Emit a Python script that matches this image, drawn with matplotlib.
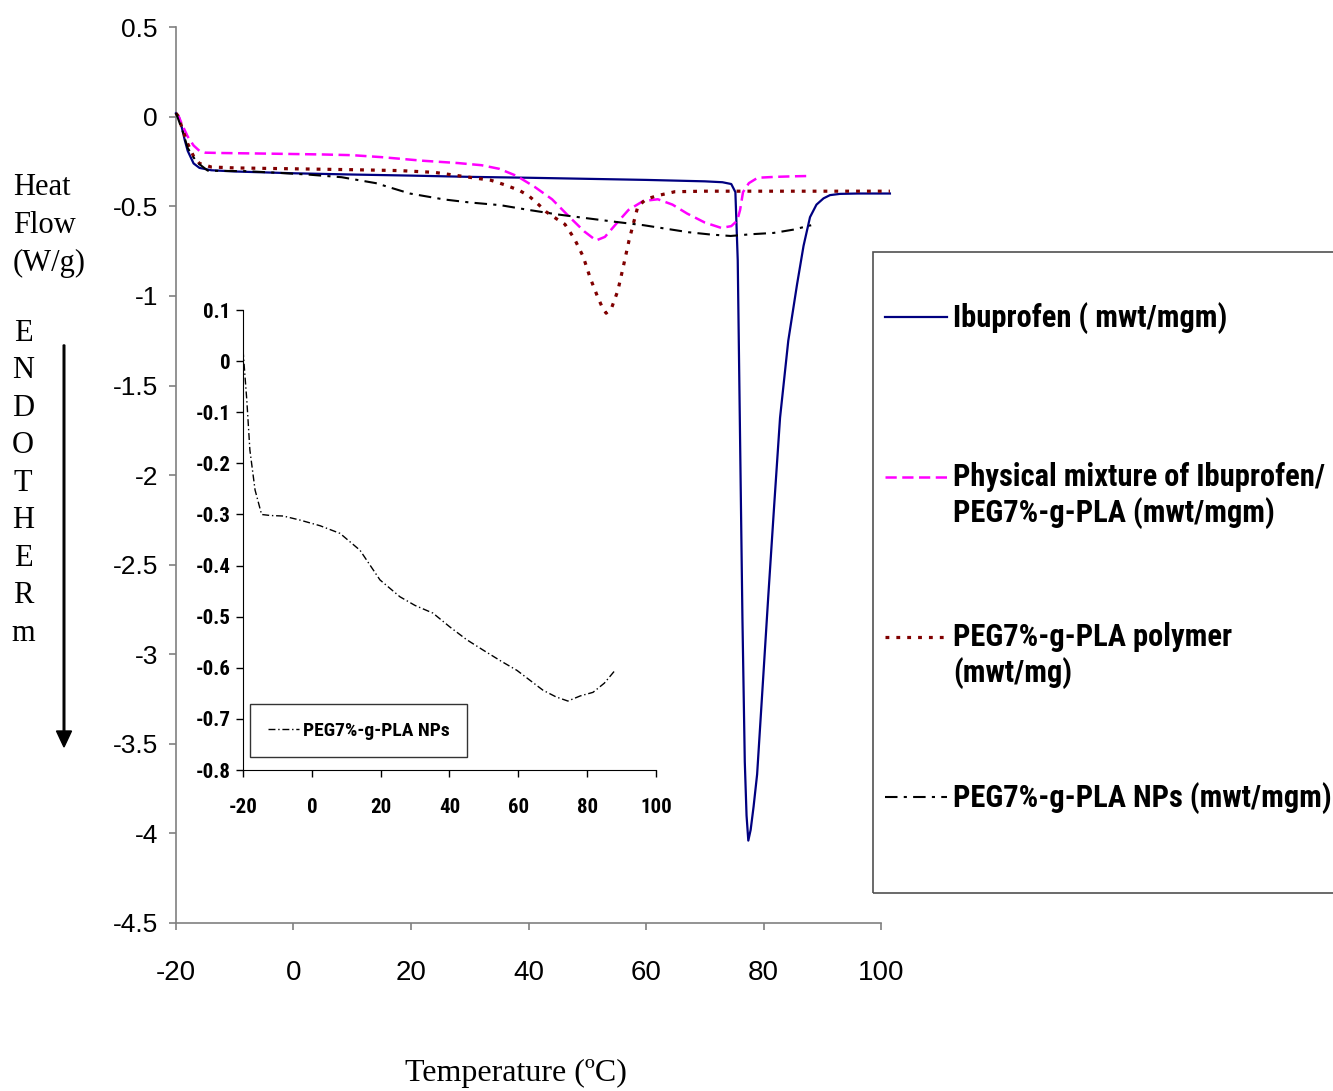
import matplotlib
matplotlib.use("Agg")
import matplotlib.pyplot as plt
from matplotlib import font_manager
from matplotlib.lines import Line2D
from matplotlib.patches import Rectangle, FancyArrow

# --- data ---
ibu_x = [-20, -19.5, -19, -18.5, -18, -17, -16, -14, -10, 0, 10, 20, 30, 40, 50, 60, 70, 73,
         74.5, 75.2, 75.6, 76.0, 76.4, 76.8, 77.1, 77.4, 77.8, 78.3, 78.9, 79.8, 80.8, 81.8,
         82.8, 84.2, 85.7, 86.8, 87.9, 89.0, 90.2, 91.3, 93, 96, 101.5]
ibu_y = [0.02, 0.0, -0.06, -0.13, -0.19, -0.26, -0.285, -0.298, -0.305, -0.315, -0.322, -0.328,
         -0.335, -0.34, -0.346, -0.352, -0.36, -0.365, -0.375, -0.42, -0.8, -1.8, -2.8, -3.6,
         -3.9, -4.04, -3.98, -3.85, -3.67, -3.2, -2.675, -2.17, -1.68, -1.25, -0.934, -0.72,
         -0.56, -0.49, -0.455, -0.437, -0.43, -0.428, -0.428]

mix_x = [-20, -19.5, -19, -18, -17, -16, -15, -12, -5, 5, 10, 15, 22, 28, 32, 35, 38, 41, 44,
         47, 49.5, 51.5, 53, 55, 57, 59.5, 62, 64.5, 67, 70, 72.8, 74.5, 75.5, 76, 76.5, 77.5,
         79, 82, 85, 88]
mix_y = [0.02, 0.0, -0.04, -0.11, -0.16, -0.19, -0.2, -0.202, -0.205, -0.21, -0.214, -0.225,
         -0.245, -0.258, -0.27, -0.29, -0.33, -0.39, -0.46, -0.56, -0.64, -0.69, -0.67, -0.594,
         -0.52, -0.47, -0.46, -0.49, -0.54, -0.59, -0.62, -0.61, -0.58, -0.52, -0.42, -0.37,
         -0.34, -0.335, -0.332, -0.33]

pol_x = [-20, -19.5, -19, -18, -17, -16, -14, -10, 0, 10, 18, 24, 27.5, 30.5, 33.6, 36, 38.4,
         40, 41.4, 43, 44.8, 46.2, 47.8, 49.3, 50.5, 51.7, 52.5, 53.2, 54.1, 55.2, 56.1, 57.1,
         58.6, 60, 61.9, 64.9, 70, 80, 90, 101.5]
pol_y = [0.02, 0.0, -0.06, -0.15, -0.22, -0.26, -0.28, -0.285, -0.29, -0.295, -0.30, -0.31,
         -0.326, -0.34, -0.354, -0.38, -0.41, -0.44, -0.48, -0.53, -0.57, -0.60, -0.68, -0.78,
         -0.9, -1.0, -1.06, -1.096, -1.07, -0.97, -0.84, -0.69, -0.5, -0.46, -0.44, -0.418,
         -0.415, -0.415, -0.415, -0.415]

nps_x = [-20, -18.9, -18, -16.5, -14.6, -12, -8.3, -3.4, 2.4, 8.2, 14, 19.8, 25.6, 30, 35.2,
         40.1, 45, 49.7, 55, 59.6, 63.5, 67.2, 71, 74.4, 78, 81.7, 85, 88.1]
nps_y = [0.022, -0.076, -0.174, -0.252, -0.30, -0.302, -0.303, -0.311, -0.322, -0.337, -0.37,
         -0.428, -0.461, -0.478, -0.493, -0.52, -0.545, -0.565, -0.587, -0.605, -0.625, -0.644,
         -0.657, -0.665, -0.655, -0.648, -0.63, -0.605]

labels = ["Ibuprofen ( mwt/mgm)",
          "Physical mixture of Ibuprofen/\nPEG7%-g-PLA (mwt/mgm)",
          "PEG7%-g-PLA polymer\n(mwt/mg)",
          "PEG7%-g-PLA NPs (mwt/mgm)"]
inset_label = "PEG7%-g-PLA NPs"

main_xticks = [-20, 0, 20, 40, 60, 80, 100]
main_yticks = [0.5, 0, -0.5, -1, -1.5, -2, -2.5, -3, -3.5, -4, -4.5]
inset_yticks = [0.1, 0, -0.1, -0.2, -0.3, -0.4, -0.5, -0.6, -0.7, -0.8]

# line styles
styles = [dict(color="#000080", lw=1.6, ls="-"),
          dict(color="#FF00FF", lw=1.8, ls=(0, (4.5, 2.2))),
          dict(color="#800000", lw=2.3, ls=(0, (1.2, 2.2))),
          dict(color="black", lw=1.5, ls=(0, (6, 3, 1.5, 3)))]

# a condensed bold face if one is around, else plain Liberation Sans
installed = {f.name for f in font_manager.fontManager.ttflist}
condensed = None
for cand in ["Roboto Condensed", "Liberation Sans Narrow", "Open Sans Condensed"]:
    if cand in installed:
        condensed = cand
        break
narrow = [condensed, "Liberation Sans"] if condensed else ["Liberation Sans"]
if condensed:
    leg_size, inset_size, inset_leg = 22, 15, 14
else:
    leg_size, inset_size, inset_leg = 19, 14, 12
serif = "Liberation Serif"

fig = plt.figure(figsize=(13.33, 10.91), dpi=100)
ax = fig.add_axes([0.132, 0.154, 0.529, 0.821])

series = [(ibu_x, ibu_y), (mix_x, mix_y), (pol_x, pol_y), (nps_x, nps_y)]
for (xs, ys), st in zip(series, styles):
    ax.plot(xs, ys, clip_on=False, zorder=3, **st)

ax.set_xlim(-20, 100)
ax.set_ylim(-4.5, 0.5)
ax.set_xticks(main_xticks)
ax.set_yticks(main_yticks)
ax.set_xticklabels([str(t) for t in main_xticks], family="Liberation Sans", fontsize=20)
ax.set_yticklabels([f"{t:g}" for t in main_yticks], family="Liberation Sans", fontsize=19)
for s in ["top", "right"]:
    ax.spines[s].set_visible(False)
for s in ["left", "bottom"]:
    ax.spines[s].set_color("#808080")
    ax.spines[s].set_linewidth(1.2)
ax.tick_params(axis="both", direction="out", length=5, width=1.2, color="#808080")
ax.tick_params(axis="y", pad=8)
ax.tick_params(axis="x", pad=22)
ax.patch.set_alpha(0)

# inset
axi = fig.add_axes([0.1823, 0.2942, 0.3098, 0.4216])
axi.patch.set_alpha(0)
axi.plot(nps_x, nps_y, color="black", lw=1.0, ls=(0, (5, 2, 1, 2)), label=inset_label)
axi.set_xlim(-20, 100)
axi.set_ylim(-0.8, 0.1)
axi.set_xticks(main_xticks)
axi.set_yticks(inset_yticks)
axi.set_xticklabels([str(t) for t in main_xticks], family=narrow, fontweight="bold", fontsize=inset_size)
axi.set_yticklabels([f"{t:g}" for t in inset_yticks], family=narrow, fontweight="bold", fontsize=inset_size)
for s in ["top", "right"]:
    axi.spines[s].set_visible(False)
axi.tick_params(axis="both", direction="out", length=5, width=1)
axi.tick_params(axis="x", pad=15)
axi.tick_params(axis="y", pad=4)
leg = axi.legend(loc="lower left", bbox_to_anchor=(0.017, 0.028), borderaxespad=0,
                 fancybox=False, edgecolor="black", handlelength=1.6, handletextpad=0.2,
                 borderpad=0.9, prop=dict(family=narrow, weight="bold", size=inset_leg))
leg.get_frame().set_linewidth(1.0)

# main legend (box runs off the right edge like the original)
W, H = 1333, 1091
fig.patches.append(Rectangle((873 / W, 1 - 893 / H), 480 / W, 641 / H, transform=fig.transFigure,
                             fill=False, edgecolor="#505050", lw=1.2))
rows = [317, 477, 637, 797]
for lab, st, yy in zip(labels, styles, rows):
    fig.lines.append(Line2D([885 / W, 947 / W], [1 - yy / H] * 2, transform=fig.transFigure, **st))
    fig.text(953 / W, 1 - (yy - 15) / H, lab, va="top", ha="left", family=narrow,
             fontweight="bold", fontsize=leg_size, linespacing=1.22)

# axis titles
fig.text(13 / W, 1 - 173 / H, "Heat\nFlow\n(W/g)", va="top", ha="left", family=serif,
         fontsize=22, linespacing=1.41)
fig.text(23 / W, 1 - 319 / H, "\n".join("ENDOTHERm"), va="top", ha="center", family=serif,
         fontsize=22, linespacing=1.385)
fig.patches.append(FancyArrow(64 / W, 1 - 345 / H, 0, -(402 / H), width=0.0012,
                              head_width=15 / W, head_length=16 / H, length_includes_head=True,
                              transform=fig.transFigure, color="black"))
fig.text(516 / W, 1 - 1088 / H, "Temperature (ºC)", va="bottom", ha="center", family=serif,
         fontsize=23)

fig.savefig("out.png", dpi=100)
